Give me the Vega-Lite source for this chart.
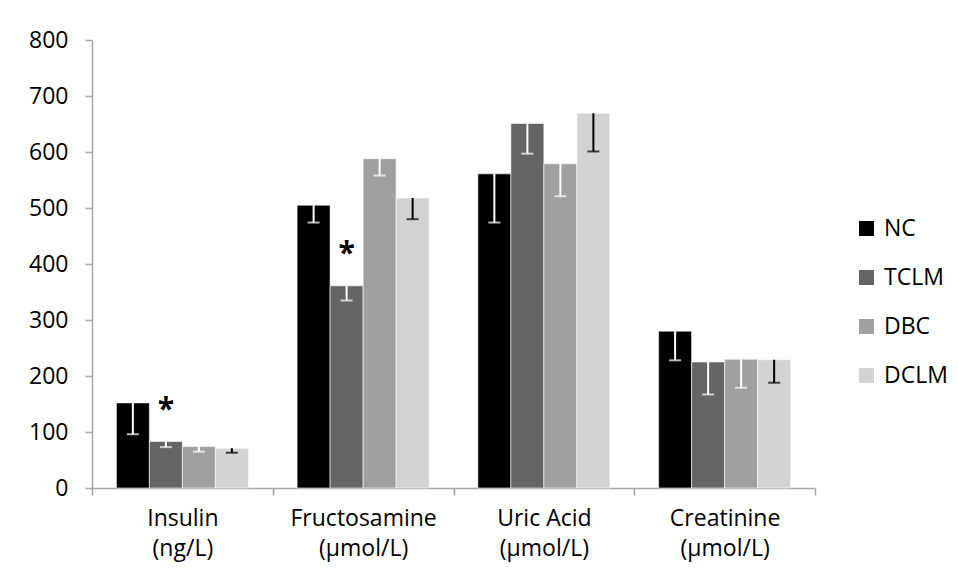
{
  "$schema": "https://vega.github.io/schema/vega-lite/v6.json",
  "autosize": {"type": "none"},
  "width": 723,
  "height": 448,
  "padding": {"left": 92, "top": 40, "right": 143, "bottom": 93},
  "background": "white",
  "config": {
    "font": "Open Sans",
    "view": {"stroke": null},
    "axis": {"domainColor": "#a6a6a6", "domainWidth": 1.5, "tickColor": "#a6a6a6", "tickWidth": 1.5, "labelColor": "#000000", "labelFont": "Open Sans", "labelFontSize": 23, "grid": false, "title": null}
  },
  "data": {
    "values": [
      {"test": "Insulin (ng/L)", "group": "NC", "mean": 152, "lower": 96},
      {"test": "Insulin (ng/L)", "group": "TCLM", "mean": 83, "lower": 73, "sig": "*"},
      {"test": "Insulin (ng/L)", "group": "DBC", "mean": 74, "lower": 65},
      {"test": "Insulin (ng/L)", "group": "DCLM", "mean": 71, "lower": 63},
      {"test": "Fructosamine (µmol/L)", "group": "NC", "mean": 505, "lower": 474},
      {"test": "Fructosamine (µmol/L)", "group": "TCLM", "mean": 361, "lower": 335, "sig": "*"},
      {"test": "Fructosamine (µmol/L)", "group": "DBC", "mean": 588, "lower": 558},
      {"test": "Fructosamine (µmol/L)", "group": "DCLM", "mean": 518, "lower": 480},
      {"test": "Uric Acid (µmol/L)", "group": "NC", "mean": 561, "lower": 474},
      {"test": "Uric Acid (µmol/L)", "group": "TCLM", "mean": 651, "lower": 597},
      {"test": "Uric Acid (µmol/L)", "group": "DBC", "mean": 579, "lower": 521},
      {"test": "Uric Acid (µmol/L)", "group": "DCLM", "mean": 669, "lower": 601},
      {"test": "Creatinine (µmol/L)", "group": "NC", "mean": 280, "lower": 228},
      {"test": "Creatinine (µmol/L)", "group": "TCLM", "mean": 225, "lower": 167},
      {"test": "Creatinine (µmol/L)", "group": "DBC", "mean": 230, "lower": 179},
      {"test": "Creatinine (µmol/L)", "group": "DCLM", "mean": 229, "lower": 188}
    ]
  },
  "encoding": {
    "x": {
      "field": "test", "type": "nominal",
      "sort": ["Insulin (ng/L)", "Fructosamine (µmol/L)", "Uric Acid (µmol/L)", "Creatinine (µmol/L)"],
      "scale": {"paddingInner": 0, "paddingOuter": 0},
      "axis": {"labelAngle": 0, "tickBand": "extent", "tickSize": 7, "labelPadding": 12, "labelLineHeight": 30, "labelExpr": "split(replace(datum.label, ' (', '|('), '|')"}
    },
    "xOffset": {
      "field": "group", "type": "nominal",
      "sort": ["NC", "TCLM", "DBC", "DCLM"],
      "scale": {"paddingInner": 0, "paddingOuter": 0.738}
    }
  },
  "layer": [
    {
      "mark": {"type": "bar", "stroke": "#ffffff", "strokeWidth": 0.6},
      "encoding": {
        "y": {"field": "mean", "type": "quantitative", "scale": {"domain": [0, 800], "nice": false},
          "axis": {"values": [0, 100, 200, 300, 400, 500, 600, 700, 800], "tickSize": 7, "labelPadding": 17}},
        "fill": {
          "field": "group", "type": "nominal",
          "sort": ["NC", "TCLM", "DBC", "DCLM"],
          "scale": {"domain": ["NC", "TCLM", "DBC", "DCLM"], "range": ["#000000", "#646464", "#a0a0a0", "#d3d3d3"]},
          "legend": {"title": null, "orient": "none", "legendX": 763, "legendY": 177, "symbolType": "square", "symbolSize": 225, "symbolStrokeWidth": 0, "labelFontSize": 23, "labelFont": "Open Sans", "labelColor": "#000000", "labelOffset": 6, "rowPadding": 25}
        }
      }
    },
    {
      "mark": {"type": "rule", "strokeWidth": 2},
      "encoding": {
        "y": {"field": "lower", "type": "quantitative"},
        "y2": {"field": "mean"},
        "color": {"condition": {"test": "datum.group === 'DCLM'", "value": "#000000"}, "value": "#ffffff"}
      }
    },
    {
      "mark": {"type": "tick", "thickness": 2, "size": 12, "orient": "horizontal"},
      "encoding": {
        "y": {"field": "lower", "type": "quantitative"},
        "color": {"condition": {"test": "datum.group === 'DCLM'", "value": "#000000"}, "value": "#ffffff"}
      }
    },
    {
      "transform": [{"filter": "isValid(datum.sig)"}],
      "mark": {"type": "text", "fontSize": 30, "fontWeight": "bold", "baseline": "middle", "dy": -32, "color": "#000000"},
      "encoding": {
        "y": {"field": "mean", "type": "quantitative"},
        "text": {"field": "sig"}
      }
    }
  ]
}
